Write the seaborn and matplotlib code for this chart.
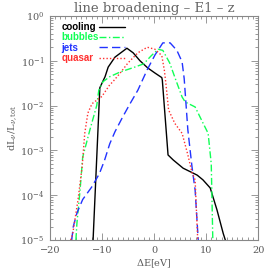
import numpy as np
import pandas as pd
import seaborn as sns
import matplotlib.pyplot as plt
from matplotlib.ticker import MultipleLocator, LogLocator, NullFormatter

# values (Delta E in eV, dL/L_tot)
cooling_x = [-11.7, -10.4, -9.4, -8.8, -7.5, -5.2, -4.0, -2.7, -1.2, 0.2, 1.5, 1.6,
             2.7, 3.7, 5.6, 7.3, 8.3, 9.4, 10.8, 12.1, 13.3, 13.7]
cooling_y = [1e-5, 0.025, 0.044, 0.072, 0.12, 0.19, 0.15, 0.10, 0.069, 0.053, 0.042, 0.037,
             7.9e-4, 6.1e-4, 4e-4, 3.2e-4, 2.8e-4, 2.2e-4, 1.45e-4, 4.7e-5, 1.4e-5, 1e-5]

bubbles_x = [-15.0, -14.8, -14.2, -13.7, -12.3, -11.0, -10.6, -9.8, -8.5, -6.5, -4.0, -2.0,
             -0.5, 0.8, 1.7, 3.0, 4.2, 5.4, 6.0, 7.9, 9.4, 10.4, 11.0, 11.3]
bubbles_y = [1e-5, 2.4e-5, 1.3e-4, 7e-4, 2.9e-3, 0.010, 0.022, 0.034, 0.044, 0.056, 0.07, 0.085,
             0.13, 0.18, 0.17, 0.09, 0.037, 0.0155, 0.012, 0.0093, 0.0041, 0.0024, 5e-4, 1e-5]

jets_x = [-15.8, -15.5, -14.8, -13.7, -12.0, -10.5, -9.5, -8.5, -7.5, -6.0, -4.6, -3.1,
          -1.3, 0.2, 1.7, 3.1, 4.4, 5.4, 5.8, 6.5, 7.3, 7.9, 8.5]
jets_y = [1e-5, 2e-5, 4e-5, 8e-5, 1.5e-4, 3e-4, 6e-4, 1.4e-3, 2.6e-3, 5.6e-3, 0.011, 0.022,
          0.063, 0.135, 0.25, 0.25, 0.17, 0.094, 0.04, 2.9e-3, 4.3e-4, 1.3e-4, 1e-5]

quasar_x = [-16.0, -15.6, -14.6, -13.8, -13.3, -12.7, -11.9, -10.0, -8.5, -7.9, -6.5, -5.0,
            -3.1, -1.3, 0.2, 1.5, 2.0, 2.3, 2.8, 4.0, 5.4, 6.5, 7.3, 7.9, 8.4]
quasar_y = [1e-5, 1.4e-5, 7.8e-5, 4.3e-4, 2.4e-3, 6.8e-3, 0.011, 0.016, 0.029, 0.034, 0.053, 0.089,
            0.15, 0.20, 0.18, 0.13, 0.06, 0.03, 0.008, 4e-3, 2.4e-3, 8e-4, 3.2e-4, 2.2e-4, 1e-5]

models = ["cooling", "bubbles", "jets", "quasar"]
colors = {"cooling": "black", "bubbles": "#11ff55", "jets": "#2233ff", "quasar": "#ff3030"}
dashes = {"cooling": "", "bubbles": (5, 1.8, 1, 1.8), "jets": (6, 3), "quasar": (1, 1.5)}

df = pd.concat([
    pd.DataFrame({"dE": cooling_x, "frac": cooling_y, "model": "cooling"}),
    pd.DataFrame({"dE": bubbles_x, "frac": bubbles_y, "model": "bubbles"}),
    pd.DataFrame({"dE": jets_x, "frac": jets_y, "model": "jets"}),
    pd.DataFrame({"dE": quasar_x, "frac": quasar_y, "model": "quasar"}),
])

sns.set_style("ticks")
plt.rcParams["font.family"] = ["DejaVu Serif"]
plt.rcParams["mathtext.fontset"] = "dejavuserif"

fig = plt.figure(figsize=(2.74, 2.74), dpi=100)
ax = fig.add_axes([0.182, 0.124, 0.760, 0.818])

sns.lineplot(data=df, x="dE", y="frac", hue="model", style="model", hue_order=models,
             style_order=models, palette=colors, dashes=dashes, sort=False,
             linewidth=1.0, ax=ax, legend=False)

ax.set_yscale("log")
ax.set_xlim(-20, 20)
ax.set_ylim(1e-5, 1)
ax.xaxis.set_major_locator(MultipleLocator(10))
ax.xaxis.set_minor_locator(MultipleLocator(1))
ax.yaxis.set_major_locator(LogLocator(base=10, numticks=10))
ax.yaxis.set_minor_locator(LogLocator(base=10, subs=np.arange(2, 10), numticks=20))
ax.yaxis.set_minor_formatter(NullFormatter())

grey = "#5a5a5a"
for s in ax.spines.values():
    s.set_color("#888888")
    s.set_linewidth(0.8)
ax.tick_params(which="both", direction="in", top=True, right=True, colors="#888888",
               labelcolor=grey, labelsize=7, width=0.6)
ax.tick_params(which="major", length=5, pad=4)
ax.tick_params(which="minor", length=2.5)

ax.set_title("line broadening \u2013 E1 \u2013 z", fontsize=9.5, color="#666666", pad=3)
ax.set_xlabel("$\\Delta$E[eV]", fontsize=7, color=grey, labelpad=2)
ax.set_ylabel("dL$_\\nu$/L$_{\\nu,\\rm tot}$", fontsize=7, color=grey)
ax.yaxis.set_label_coords(-0.15, 0.5)

# legend: names left-aligned, line samples in a column to their right
lines = ax.get_lines()[:len(models)]
font = {"family": "Liberation Sans", "weight": "bold", "size": 7}
names = ax.legend(lines, models, frameon=False, labelcolor="linecolor", loc="upper left",
                  bbox_to_anchor=(0.055, 0.972), borderaxespad=0, borderpad=0,
                  handlelength=0, handletextpad=0, labelspacing=0.03, prop=font)
for h in names.legend_handles:
    h.set_visible(False)
ax.add_artist(names)
ax.legend(lines, [" "] * len(models), frameon=False, loc="upper left",
          bbox_to_anchor=(0.235, 0.972), borderaxespad=0, borderpad=0,
          handlelength=2.7, handletextpad=0, labelspacing=0.03, prop=font)

fig.savefig("out.png", dpi=100)
